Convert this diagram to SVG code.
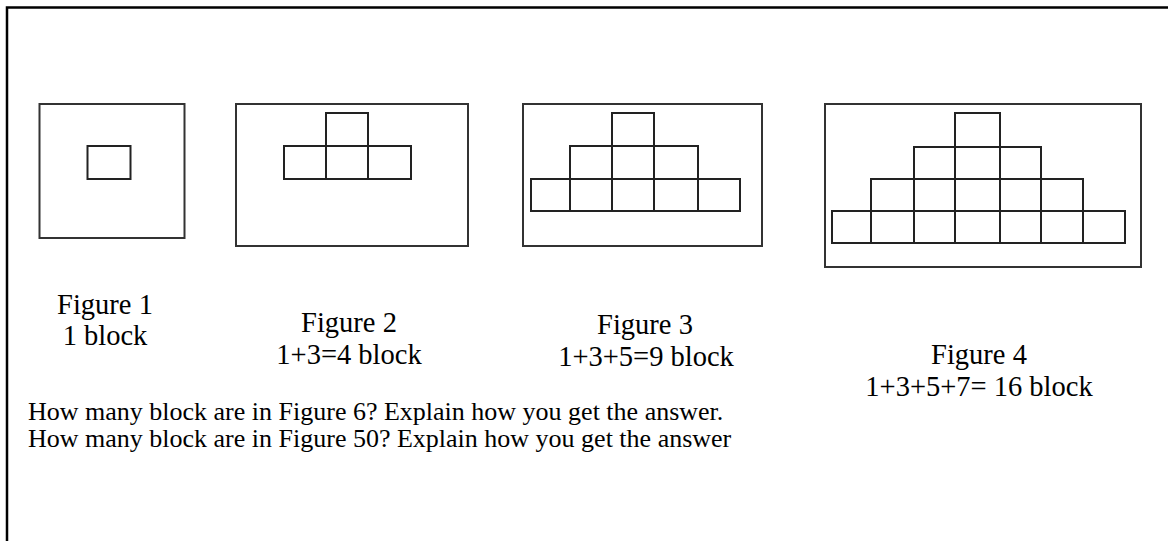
<svg xmlns="http://www.w3.org/2000/svg" width="1168" height="541" viewBox="0 0 1168 541">
<style>
.frame{fill:none;stroke:#000;stroke-width:2.5}
.box{fill:none;stroke:#333;stroke-width:2}
.blk{fill:none;stroke:#222;stroke-width:2}
.t{font-family:"Liberation Serif","Times New Roman",serif;font-size:28.5px;fill:#000}
.q{font-size:26px}
.c{text-anchor:middle}
</style>
<rect width="1168" height="541" fill="#fff"/>
<path class="frame" d="M7,541 V7.5 H1168"/>
<g id="figure1">
<rect class="box" x="39.5" y="104" width="145" height="134"/>
<rect class="blk" x="87.5" y="146" width="43" height="33"/>
<text class="t c" x="105" y="314">Figure 1</text>
<text class="t c" x="105" y="345">1 block</text>
</g>
<g id="figure2">
<rect class="box" x="236" y="104" width="232" height="142"/>
<path class="blk" d="M326,146 V113 H368 V146 M284,146 H411 V179 H284 Z M326,146 V179 M368,146 V179"/>
<text class="t c" x="349" y="332">Figure 2</text>
<text class="t c" x="349" y="364">1+3=4 block</text>
</g>
<g id="figure3">
<rect class="box" x="523" y="104" width="239" height="142"/>
<path class="blk" d="M612,146 V113 H654 V146 M570,179 V146 H698 V179 M531,179 H740 V211 H531 Z M570,179 V211 M612,146 V211 M654,146 V211 M698,179 V211"/>
<text class="t c" x="645" y="334">Figure 3</text>
<text class="t c" x="646" y="366">1+3+5=9 block</text>
</g>
<g id="figure4">
<rect class="box" x="825" y="104" width="316" height="163"/>
<path class="blk" d="M955,147 V113 H1000 V147 M914,179 V147 H1041 V179 M871,211 V179 H1083 V211 M832,211 H1125 V243 H832 Z M871,211 V243 M914,179 V243 M955,147 V243 M1000,147 V243 M1041,179 V243 M1083,211 V243"/>
<text class="t c" x="979" y="364">Figure 4</text>
<text class="t c" x="979" y="396">1+3+5+7= 16 block</text>
</g>
<g id="questions">
<text class="t q" x="28" y="420">How many block are in Figure 6? Explain how you get the answer.</text>
<text class="t q" x="28" y="447">How many block are in Figure 50? Explain how you get the answer</text>
</g>
</svg>
